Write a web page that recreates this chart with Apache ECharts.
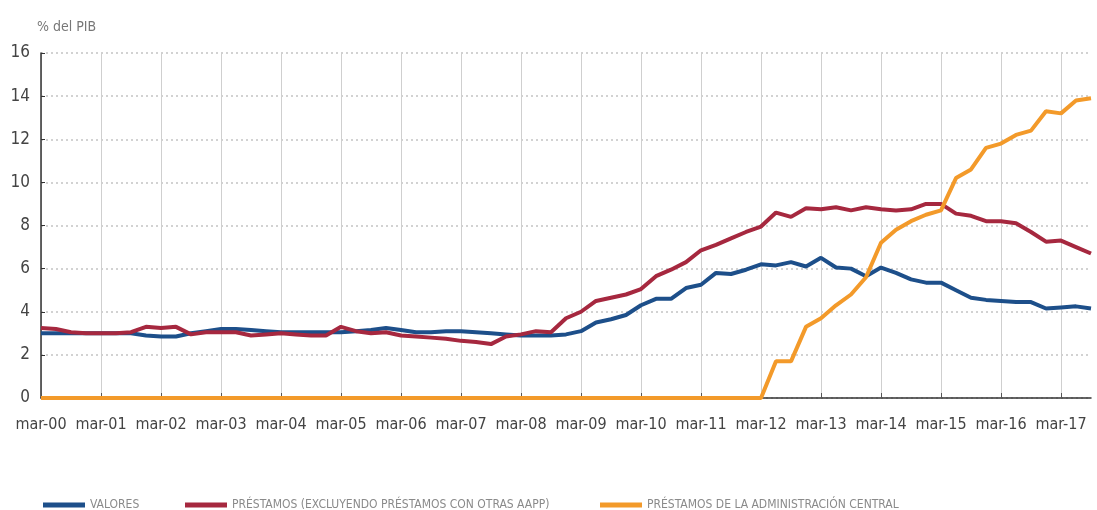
<!DOCTYPE html>
<html>
<head>
<meta charset="utf-8">
<script src="https://cdn.jsdelivr.net/npm/echarts@6/dist/echarts.min.js"></script>
<style>
html,body{margin:0;padding:0;background:#fff;}
#c{width:1097px;height:510px;}
</style>
</head>
<body>
<div id="c"></div>
<script>
// Quarterly categories mar-00 .. sep-17
const years = ['00','01','02','03','04','05','06','07','08','09','10','11','12','13','14','15','16','17'];
const months = ['mar','jun','sep','dic'];
const categories = [];
years.forEach(y => months.forEach(m => categories.push(m + '-' + y)));
categories.length = 71;

const yTicks = [0, 2, 4, 6, 8, 10, 12, 14, 16];

const valores = [
  3.0, 3.0, 3.0, 3.0, 3.0, 3.0, 3.0, 2.9, 2.85, 2.85,
  3.0, 3.1, 3.2, 3.2, 3.15, 3.1, 3.05, 3.05, 3.05, 3.05,
  3.05, 3.1, 3.15, 3.25, 3.15, 3.05, 3.05, 3.1, 3.1, 3.05,
  3.0, 2.95, 2.9, 2.9, 2.9, 2.95, 3.1, 3.5, 3.65, 3.85,
  4.3, 4.6, 4.6, 5.1, 5.25, 5.8, 5.75, 5.95, 6.2, 6.15,
  6.3, 6.1, 6.5, 6.05, 6.0, 5.65, 6.05, 5.8, 5.5, 5.35,
  5.35, 5.0, 4.65, 4.55, 4.5, 4.45, 4.45, 4.15, 4.2, 4.25,
  4.15
];

const prestamos = [
  3.25, 3.2, 3.05, 3.0, 3.0, 3.0, 3.05, 3.3, 3.25, 3.3,
  2.95, 3.05, 3.05, 3.05, 2.9, 2.95, 3.0, 2.95, 2.9, 2.9,
  3.3, 3.1, 3.0, 3.05, 2.9, 2.85, 2.8, 2.75, 2.65, 2.6,
  2.5, 2.85, 2.95, 3.1, 3.05, 3.7, 4.0, 4.5, 4.65, 4.8,
  5.05, 5.65, 5.95, 6.3, 6.85, 7.1, 7.4, 7.7, 7.95, 8.6,
  8.4, 8.8, 8.75, 8.85, 8.7, 8.85, 8.75, 8.7, 8.75, 9.0,
  9.0, 8.55, 8.45, 8.2, 8.2, 8.1, 7.7, 7.25, 7.3, 7.0,
  6.7
];

const adminCentral = [
  0, 0, 0, 0, 0, 0, 0, 0, 0, 0,
  0, 0, 0, 0, 0, 0, 0, 0, 0, 0,
  0, 0, 0, 0, 0, 0, 0, 0, 0, 0,
  0, 0, 0, 0, 0, 0, 0, 0, 0, 0,
  0, 0, 0, 0, 0, 0, 0, 0, 0, 1.7,
  1.7, 3.3, 3.7, 4.3, 4.8, 5.6, 7.2, 7.8, 8.2, 8.5,
  8.7, 10.2, 10.6, 11.6, 11.8, 12.2, 12.4, 13.3, 13.2, 13.8,
  13.9
];

const seriesNames = ['VALORES', 'PRÉSTAMOS (EXCLUYENDO PRÉSTAMOS CON OTRAS AAPP)', 'PRÉSTAMOS DE LA ADMINISTRACIÓN CENTRAL'];
const colors = ['#1d4f8a', '#a6283f', '#f39a2a'];

const FONT = "'Liberation Sans Narrow', 'DejaVu Sans Condensed', 'Liberation Sans', sans-serif";

const chart = echarts.init(document.getElementById('c'), null, {renderer: 'canvas'});

const legendBase = {
  top: 494,
  itemWidth: 42,
  itemHeight: 5,
  icon: 'rect',
  textStyle: {fontFamily: FONT, fontSize: 12, color: '#8a8a8a'},
  itemGap: 8
};

chart.setOption({
  animation: false,
  color: colors,
  grid: {left: 41, right: 6, top: 53, bottom: 112, containLabel: false},
  legend: [
    Object.assign({}, legendBase, {left: 38, data: [seriesNames[0]]}),
    Object.assign({}, legendBase, {left: 180, data: [seriesNames[1]]}),
    Object.assign({}, legendBase, {left: 595, data: [seriesNames[2]]})
  ],
  xAxis: {
    type: 'category',
    data: categories,
    boundaryGap: false,
    axisLine: {show: true, onZero: false, lineStyle: {color: '#333', width: 1.5}},
    axisTick: {show: true, inside: true, length: 5, interval: 3, lineStyle: {color: '#555'}},
    axisLabel: {interval: 3, fontFamily: FONT, fontSize: 16, color: '#444', margin: 19},
    splitLine: {show: true, interval: 3, lineStyle: {color: '#cfcfcf', width: 1, type: 'solid'}}
  },
  yAxis: {
    type: 'value',
    min: yTicks[0],
    max: yTicks[yTicks.length - 1],
    interval: 2,
    name: '% del PIB',
    nameLocation: 'end',
    nameGap: 19,
    nameTextStyle: {fontFamily: FONT, fontSize: 14, color: '#777', align: 'left', padding: [0, 0, 0, -4]},
    axisLine: {show: true, lineStyle: {color: '#333', width: 1.5}},
    axisTick: {show: true, inside: true, length: 4, lineStyle: {color: '#333'}},
    axisLabel: {fontFamily: FONT, fontSize: 17, color: '#444', margin: 11},
    splitLine: {show: true, lineStyle: {color: '#c4c4c4', width: 1.5, type: [2, 3]}}
  },
  series: [
    {name: seriesNames[0], type: 'line', data: valores, symbol: 'none', lineStyle: {width: 4, color: colors[0]}, z: 3},
    {name: seriesNames[1], type: 'line', data: prestamos, symbol: 'none', lineStyle: {width: 4, color: colors[1]}, z: 4},
    {name: seriesNames[2], type: 'line', data: adminCentral, symbol: 'none', lineStyle: {width: 4, color: colors[2]}, z: 5}
  ]
});
</script>
</body>
</html>
